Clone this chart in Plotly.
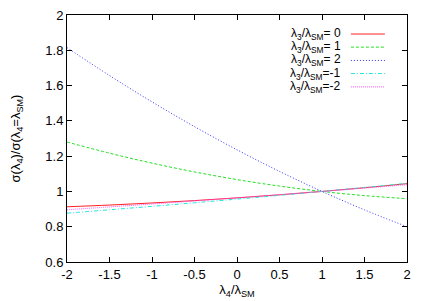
import plotly.graph_objects as go

x_vals = [-2, -1.5, -1, -0.5, 0, 0.5, 1, 1.5, 2]
y_l0 = [0.913, 0.9228, 0.9345, 0.948, 0.9635, 0.9808, 1.0, 1.021, 1.044]
y_l1 = [1.28, 1.2169, 1.1604, 1.1105, 1.0671, 1.0303, 1.0, 0.9763, 0.959]
y_l2 = [1.815, 1.6569, 1.5076, 1.3673, 1.2359, 1.1135, 1.0, 0.8955, 0.80]
y_lm1 = [0.877, 0.8959, 0.9155, 0.9357, 0.9565, 0.9779, 1.0, 1.0227, 1.046]
y_lm2 = [0.896, 0.9123, 0.929, 0.9461, 0.9637, 0.9817, 1.0, 1.0189, 1.038]

labels = ["λ<sub>3</sub>/λ<sub>SM</sub>= 0", "λ<sub>3</sub>/λ<sub>SM</sub>= 1",
          "λ<sub>3</sub>/λ<sub>SM</sub>= 2", "λ<sub>3</sub>/λ<sub>SM</sub>=-1",
          "λ<sub>3</sub>/λ<sub>SM</sub>=-2"]
series = [y_l0, y_l1, y_l2, y_lm1, y_lm2]
colors = ["#ff2020", "#20e020", "#3030ff", "#20e8e0", "#ff50ff"]
dashes = ["solid", "3px,2px", "1px,2px", "4px,2px,1px,2px", "1px,1px"]

x_ticks = [-2, -1.5, -1, -0.5, 0, 0.5, 1, 1.5, 2]
y_ticks = [0.6, 0.8, 1, 1.2, 1.4, 1.6, 1.8, 2]

fig = go.Figure()
for ys, c, d, name in zip(series, colors, dashes, labels):
    fig.add_trace(go.Scatter(x=x_vals, y=ys, mode="lines", name=name,
                             line=dict(color=c, width=1, dash=d, shape="spline"),
                             showlegend=False))

font = dict(family="Liberation Sans, Arial, sans-serif", size=13, color="black")
leg_font = dict(family="Liberation Sans, Arial, sans-serif", size=12, color="black")

# manual gnuplot-style key: text right-aligned, sample line on the right
leg_y = [0.923, 0.870, 0.816, 0.763, 0.709]
for ly, c, d, name in zip(leg_y, colors, dashes, labels):
    fig.add_annotation(x=0.81, y=ly, xref="paper", yref="paper", text=name,
                       showarrow=False, xanchor="right", yanchor="middle",
                       font=leg_font, borderpad=0)
    fig.add_shape(type="line", xref="paper", yref="paper",
                  x0=0.835, x1=0.935, y0=ly, y1=ly,
                  line=dict(color=c, width=1, dash=d))

# page body has an 8px default margin; size the figure to compensate
fig.update_layout(
    width=422, height=293,
    margin=dict(l=59, r=23, t=7, b=39, autoexpand=False),
    plot_bgcolor="white", paper_bgcolor="white",
    font=font,
    showlegend=False,
)
fig.update_xaxes(range=[-2, 2], tickvals=x_ticks, ticktext=[str(v) for v in x_ticks],
                 ticks="inside", ticklen=5, tickcolor="black", showgrid=False,
                 zeroline=False, showline=True, linecolor="black", linewidth=1,
                 mirror="ticks", automargin=False, ticklabeloverflow="allow",
                 title=dict(text="λ<sub>4</sub>/λ<sub>SM</sub>", standoff=4, font=font))
fig.update_yaxes(range=[0.6, 2], tickvals=y_ticks,
                 ticktext=["0.6", "0.8", "1", "1.2", "1.4", "1.6", "1.8", "2"],
                 ticks="inside", ticklen=5, tickcolor="black", showgrid=False,
                 zeroline=False, showline=True, linecolor="black", linewidth=1,
                 mirror="ticks", automargin=False, ticklabeloverflow="allow",
                 title=dict(text="σ(λ<sub>4</sub>)/σ(λ<sub>4</sub>=λ<sub>SM</sub>)",
                            standoff=27, font=font))

fig.write_html("out.html")
